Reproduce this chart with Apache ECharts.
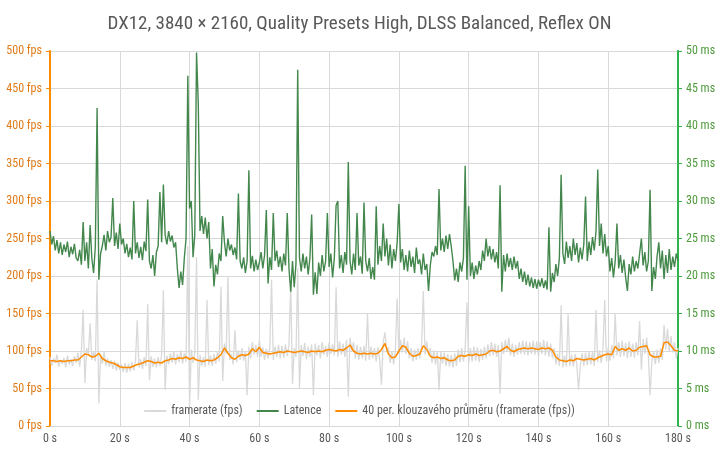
<!DOCTYPE html>
<html><head><meta charset="utf-8">
<script src="https://cdn.jsdelivr.net/npm/echarts@6/dist/echarts.min.js"></script>
<style>html,body{margin:0;padding:0;background:#fff}#c{width:719px;height:455px}</style>
</head><body><div id="c"></div>
<script>
const titleText = 'DX12, 3840 × 2160, Quality Presets High, DLSS Balanced, Reflex ON';
const seriesNames = ['framerate (fps)', 'Latence', '40 per. klouzavého průměru (framerate (fps))'];
const sampleStep = 0.5;   // seconds between framerate / latency samples
const avgStep = 1;        // seconds between moving-average samples

const framerate = [
92,80,90,84,95,79,88,83,91,78,94,82,89,80,93,84,98,79,101,155,
57,104,96,137,88,99,86,195,30,94,83,99,80,90,79,88,76,87,74,84,
75,82,72,84,71,83,73,85,74,87,141,78,89,76,92,80,163,61,93,79,
90,78,92,80,95,181,48,94,82,97,84,99,82,96,85,101,83,97,86,240,
25,102,84,97,225,35,95,80,92,79,168,81,94,80,96,83,99,86,186,60,
110,96,200,88,96,82,128,85,101,88,104,87,100,41,106,90,112,95,108,92,
114,92,105,88,103,90,104,195,88,106,92,108,90,107,91,109,93,108,190,56,
104,92,210,50,108,93,111,89,106,92,109,41,110,94,108,90,112,95,107,92,
112,96,109,94,185,92,113,95,110,92,115,39,118,100,112,90,108,88,106,90,
107,87,150,88,106,90,104,86,105,88,55,112,125,100,105,84,100,82,103,170,
96,115,98,118,96,113,90,104,86,102,88,104,90,106,180,95,113,94,104,84,
101,82,100,48,99,83,98,80,96,79,95,78,97,80,102,85,104,86,103,165,
84,104,86,106,87,105,85,103,88,106,90,109,93,112,94,110,92,108,43,112,
96,115,100,118,94,110,92,108,95,112,96,114,95,113,94,112,96,114,95,113,
93,112,96,115,94,113,92,110,90,104,82,96,80,161,78,94,79,150,80,95,
79,96,82,48,81,97,80,98,81,99,82,100,80,155,85,101,84,104,168,86,
105,87,108,90,150,94,112,92,114,93,111,90,113,92,110,91,112,94,140,75,
116,96,118,94,41,86,100,82,102,84,104,88,135,102,130,100,120,98,112,90,
104
];

const latency = [
26.0,24.2,25.3,23.4,24.8,23.0,24.5,22.8,24.2,23.2,24.6,22.5,23.9,22.9,24.3,22.4,22.0,23.5,21.5,27.2,
22.0,24.5,21.0,26.8,22.3,20.4,24.0,42.4,19.5,23.0,24.0,25.5,23.4,26.0,24.5,25.2,30.4,24.0,25.8,23.6,
27.0,24.2,25.0,23.0,24.3,22.5,23.8,22.2,30.0,23.0,24.5,22.4,23.9,22.1,24.6,23.3,30.2,22.0,21.0,22.8,
20.0,23.2,24.0,31.2,24.5,32.2,25.5,24.2,26.0,24.6,25.4,23.8,24.5,21.0,18.4,20.6,18.8,22.4,25.0,46.7,
29.0,30.0,22.5,25.5,49.8,43.0,26.0,28.0,25.6,27.8,25.0,27.2,21.0,23.6,18.6,21.5,20.2,23.0,22.0,28.0,
24.5,22.6,25.0,23.4,24.2,22.8,23.8,22.2,31.0,22.0,21.0,22.5,20.4,22.0,34.1,21.0,22.7,20.6,22.2,20.8,
21.8,23.2,21.0,22.8,28.8,19.0,22.5,20.8,28.4,22.0,23.4,21.2,22.6,20.6,23.0,21.4,28.4,21.0,17.9,22.0,
18.5,21.6,47.5,22.5,20.6,23.0,21.0,22.6,20.2,22.4,28.2,17.5,20.5,17.6,21.8,20.0,22.8,20.6,22.0,28.4,
21.2,23.0,19.8,22.4,29.4,30.0,21.0,22.8,20.4,23.2,21.5,35.2,22.0,20.2,23.0,20.8,28.4,21.4,22.6,20.3,
29.8,22.0,20.6,22.4,19.6,21.2,19.5,29.3,21.5,24.0,22.0,27.0,22.6,25.0,21.4,24.2,21.0,23.6,22.0,24.4,
29.6,21.8,23.6,20.8,22.8,20.6,23.4,21.2,22.6,20.4,23.8,21.6,22.2,20.2,23.0,20.8,21.6,18.0,21.4,23.2,
22.6,24.0,22.8,31.6,23.4,25.0,23.2,25.4,23.6,25.6,24.0,22.0,19.4,21.0,19.2,21.8,20.6,22.4,34.7,19.5,
29.3,20.0,21.8,19.6,21.4,20.2,22.0,20.8,23.4,22.0,25.0,22.6,24.0,22.2,23.6,21.8,23.2,21.0,32.1,17.9,
22.8,20.6,23.0,21.2,22.4,20.8,22.6,21.0,22.0,19.6,21.0,19.2,20.6,18.8,20.2,18.6,19.8,18.4,19.6,18.3,
19.5,18.6,19.7,18.4,19.4,18.2,26.5,17.9,20.4,19.2,21.6,20.0,22.4,33.5,23.0,21.6,24.6,22.4,24.0,22.0,
25.0,22.8,24.4,21.8,23.8,22.2,24.2,30.6,22.0,24.6,22.8,25.2,23.4,26.0,34.2,24.0,27.0,23.0,25.6,22.6,
24.0,20.6,22.4,19.8,22.0,27.0,21.0,22.8,20.4,22.2,19.8,18.0,21.6,20.2,22.6,20.6,22.0,21.0,23.0,25.0,
21.4,23.2,20.6,22.0,31.5,18.0,21.2,19.6,22.6,24.5,21.0,23.4,19.6,22.8,20.4,23.6,20.8,22.6,21.2,23.0,
22.0
];

const movingAvg = [
87,87,86,87,86,87,87,88,88,92,96,95,92,93,97,90,87,85,84,82,
79,78,78,78,80,82,83,85,87,86,84,85,84,87,88,90,89,91,90,92,
89,91,88,87,86,88,87,88,91,95,104,97,91,89,93,95,94,96,103,99,
105,98,97,96,97,98,99,98,100,99,98,99,100,99,98,100,99,100,99,101,
102,101,100,102,101,104,108,100,97,96,97,96,97,96,97,102,110,96,91,92,
100,107,105,97,93,94,96,107,102,93,91,92,90,91,88,87,88,93,94,93,
95,94,96,94,95,96,100,101,99,100,103,106,101,99,102,103,104,103,104,103,
102,104,103,104,101,92,88,87,86,88,87,90,89,88,89,90,88,91,93,95,
96,95,106,101,103,101,104,100,101,105,106,107,95,92,92,93,111,112,107,101,
100
];

const xTicks = {min: 0, max: 180, interval: 20};
const fpsTicks = {min: 0, max: 500, interval: 50};
const msTicks = {min: 0, max: 50, interval: 5};

const fpsData = framerate.map((v, i) => [i * sampleStep, v]);
const latData = latency.map((v, i) => [i * sampleStep, v]);
const avgData = movingAvg.map((v, i) => [i * avgStep, v]);

const FONT = '"Liberation Sans Narrow", "Roboto Condensed", "DejaVu Sans Condensed", Roboto, sans-serif';
const chart = echarts.init(document.getElementById('c'), null, {renderer: 'canvas'});
chart.setOption({
  animation: false,
  backgroundColor: '#ffffff',
  title: {
    text: titleText, left: 'center', top: 10,
    textStyle: {fontFamily: FONT, fontSize: 19, fontWeight: 'normal', color: '#595959'}
  },
  legend: {
    bottom: 33, left: 'center', itemGap: 14, itemWidth: 22, itemHeight: 2,
    icon: 'rect',
    textStyle: {fontFamily: FONT, fontSize: 12, color: '#595959'},
    data: seriesNames
  },
  grid: {left: 50, right: 41, top: 51, bottom: 29, containLabel: false},
  xAxis: {
    type: 'value', min: xTicks.min, max: xTicks.max, interval: xTicks.interval,
    axisLine: {show: true, lineStyle: {color: '#d9d9d9', width: 1}},
    axisTick: {show: false},
    splitLine: {show: true, lineStyle: {color: '#d9d9d9', width: 1}},
    axisLabel: {formatter: '{value} s', fontFamily: FONT, fontSize: 12, color: '#595959', margin: 7}
  },
  yAxis: [{
    type: 'value', min: fpsTicks.min, max: fpsTicks.max, interval: fpsTicks.interval, position: 'left',
    axisLine: {show: true, lineStyle: {color: '#ff8c00', width: 2}},
    axisTick: {show: true, length: 4, lineStyle: {color: '#ff8c00', width: 1}},
    splitLine: {show: true, lineStyle: {color: '#d9d9d9', width: 1}},
    axisLabel: {formatter: '{value} fps', fontFamily: FONT, fontSize: 12, color: '#e07b1a', margin: 8}
  }, {
    type: 'value', min: msTicks.min, max: msTicks.max, interval: msTicks.interval, position: 'right',
    axisLine: {show: true, lineStyle: {color: '#2eb34a', width: 2}},
    axisTick: {show: true, length: 4, lineStyle: {color: '#2eb34a', width: 1}},
    splitLine: {show: false},
    axisLabel: {formatter: '{value} ms', fontFamily: FONT, fontSize: 12, color: '#4e9a3c', margin: 8}
  }],
  series: [{
    name: seriesNames[0], type: 'line', yAxisIndex: 0, data: fpsData,
    symbol: 'none', showSymbol: false, z: 2,
    lineStyle: {color: '#d9d9d9', width: 1.3}, itemStyle: {color: '#d9d9d9'}
  }, {
    name: seriesNames[1], type: 'line', yAxisIndex: 1, data: latData,
    symbol: 'none', showSymbol: false, z: 3,
    lineStyle: {color: '#43874d', width: 1.4}, itemStyle: {color: '#43874d'}
  }, {
    name: seriesNames[2], type: 'line', yAxisIndex: 0, data: avgData,
    symbol: 'none', showSymbol: false, z: 4,
    lineStyle: {color: '#ff8c00', width: 1.5}, itemStyle: {color: '#ff8c00'}
  }]
});
</script>
</body></html>
